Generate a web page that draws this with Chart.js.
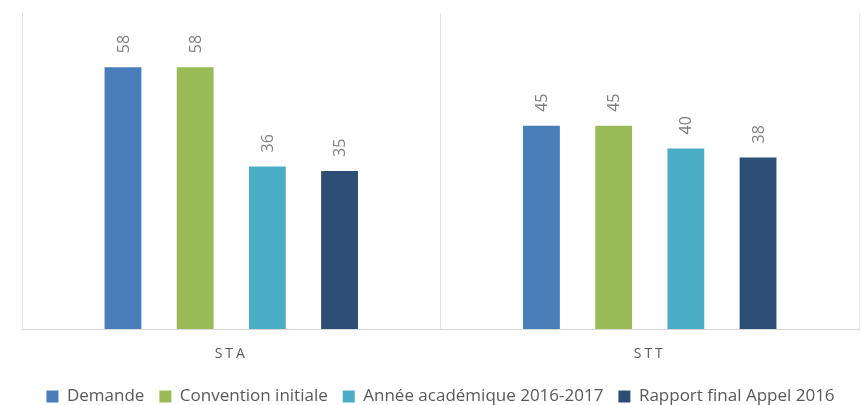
<!DOCTYPE html>
<html>
<head>
<meta charset="utf-8">
<script src="https://cdn.jsdelivr.net/npm/chart.js@4"></script>
<style>
  html, body { margin: 0; padding: 0; background: #fff; }
  #wrap { width: 861px; height: 405px; }
</style>
</head>
<body>
<div id="wrap"><canvas id="chart" width="861" height="405"></canvas></div>
<script>
const categories = ['STA', 'STT'];
const demande = [58, 45];
const conventionInitiale = [58, 45];
const anneeAcademique = [36, 40];
const rapportFinal = [35, 38];

const seriesNames = ['Demande', 'Convention initiale', 'Année académique 2016-2017', 'Rapport final Appel 2016'];
const seriesColors = ['#4A7EBB', '#9BBB59', '#4BACC6', '#2C4D75'];
const seriesValues = [demande, conventionInitiale, anneeAcademique, rapportFinal];

// rotated value labels above each bar
const valueLabels = {
  id: 'valueLabels',
  afterDatasetsDraw(chart) {
    const ctx = chart.ctx;
    ctx.save();
    ctx.fillStyle = '#7f7f7f';
    ctx.font = '16px "Open Sans"';
    ctx.textAlign = 'left';
    ctx.textBaseline = 'middle';
    chart.data.datasets.forEach((ds, i) => {
      const meta = chart.getDatasetMeta(i);
      meta.data.forEach((bar, j) => {
        ctx.save();
        ctx.translate(bar.x + 1, bar.y - 14);
        ctx.rotate(-Math.PI / 2);
        ctx.fillText(String(ds.data[j]), 0, 0);
        ctx.restore();
      });
    });
    ctx.restore();
  }
};

// spaced out category labels (S T A)
const spacedTicks = {
  id: 'spacedTicks',
  afterUpdate(chart) {
    const x = chart.scales.x;
    if (x._spaced) return;
    const orig = x.drawLabels.bind(x);
    x.drawLabels = function (area) {
      const ctx = chart.ctx;
      ctx.save();
      ctx.letterSpacing = '3px';
      orig(area);
      ctx.restore();
    };
    x._spaced = true;
  }
};

new Chart(document.getElementById('chart'), {
  type: 'bar',
  data: {
    labels: categories,
    datasets: seriesNames.map((name, i) => ({
      label: name,
      data: seriesValues[i],
      backgroundColor: seriesColors[i],
      borderWidth: 0,
      barPercentage: 0.51,
      categoryPercentage: 0.69
    }))
  },
  options: {
    responsive: false,
    animation: false,
    layout: { padding: { left: 22, right: 2, top: 13, bottom: -10 } },
    scales: {
      x: {
        grid: { display: true, offset: true, color: '#e3e3e3', drawTicks: false },
        border: { display: true, color: '#d9d9d9' },
        ticks: { color: '#595959', font: { family: 'Open Sans', size: 14 }, padding: 17 },
        afterFit(scale) { scale.height = 44; }
      },
      y: {
        display: false,
        min: 0,
        max: 70
      }
    },
    plugins: {
      legend: {
        position: 'bottom',
        labels: {
          color: '#595959',
          font: { family: 'Open Sans', size: 17 },
          boxWidth: 12,
          boxHeight: 12,
          padding: 15
        }
      },
      tooltip: { enabled: false },
      title: { display: false }
    }
  },
  plugins: [valueLabels, spacedTicks]
});
</script>
</body>
</html>
